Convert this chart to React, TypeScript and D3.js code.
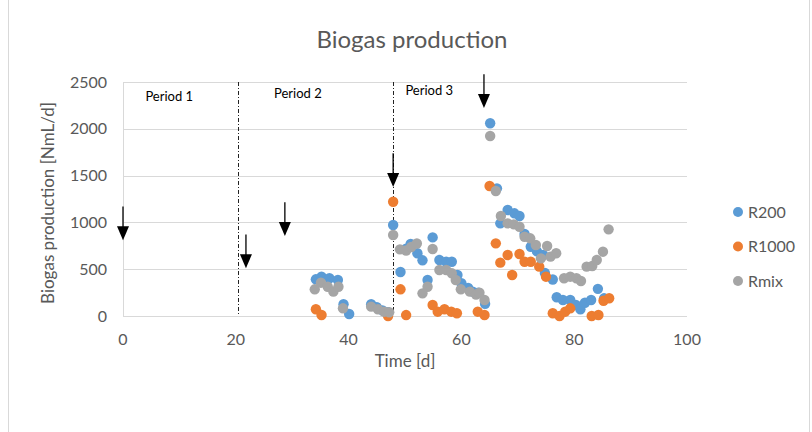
import React from "react";
import * as d3 from "d3";

const xTicks = [0, 20, 40, 60, 80, 100];
const yTicks = [0, 500, 1000, 1500, 2000, 2500];

const r200: [number, number][] = [
  [34.2, 392], [35.2, 420], [36.6, 403], [38.1, 385], [39.1, 125], [40.1, 21],
  [44, 125], [45, 95], [46, 60], [47, 40], [47.9, 972], [49.2, 470], [50.2, 720],
  [51, 770], [52.2, 670], [53.1, 595], [54, 385], [54.9, 840], [56.1, 598],
  [57.3, 580], [58.3, 580], [59.3, 438], [60, 350], [61.2, 300], [62, 260],
  [63, 250], [64.2, 130], [65.1, 2059], [66.3, 1364], [66.9, 990], [68.2, 1132],
  [69.4, 1097], [70.3, 1068], [71.2, 876], [72.3, 740], [73.4, 690], [74.5, 652],
  [74.8, 460], [76.2, 390], [76.9, 200], [78, 171], [79.3, 171], [80.3, 117],
  [81.1, 72], [81.9, 142], [83, 171], [84.2, 290], [85.3, 189],
];

const r1000: [number, number][] = [
  [34.2, 72], [35.2, 11], [47, 0], [47.9, 1221], [49.2, 285], [50.2, 10],
  [54.9, 117], [55.8, 46], [57, 72], [58.2, 46], [59.2, 29], [62.9, 46],
  [64.1, 11], [65, 1389], [66.1, 776], [66.9, 570], [68.2, 652], [69, 438],
  [70.3, 662], [71.2, 580], [72.3, 580], [73.8, 527], [75, 420], [76.2, 29],
  [77.4, 0], [78.4, 46], [79.3, 82], [83.1, 0], [84.3, 11], [85.2, 163], [86.2, 190],
];

const rmix: [number, number][] = [
  [34, 285], [35.1, 356], [36.3, 313], [37.3, 260], [38.2, 313], [39, 82],
  [44, 100], [45.2, 72], [46.3, 46], [47.2, 40], [47.9, 865], [49.1, 712],
  [50.2, 700], [51.1, 737], [52.1, 775], [53.1, 242], [54, 313], [54.9, 716],
  [56.1, 491], [57.3, 491], [58.3, 456], [59, 385], [59.9, 285], [61.5, 260],
  [62.6, 230], [63.2, 249], [64.1, 171], [65.1, 1923], [66.1, 1335], [67, 1068],
  [68.2, 990], [69.3, 979], [70.3, 954], [71.2, 847], [72.2, 830], [73.2, 759],
  [74.1, 616], [75.2, 748], [75.8, 634], [76.8, 670], [78.2, 403], [79.3, 420],
  [80.4, 403], [81.2, 374], [82.2, 527], [83.2, 534], [84, 598], [85.1, 687],
  [86.1, 926],
];

const seriesNames = ["R200", "R1000", "Rmix"];
const seriesColors = ["#5B9BD5", "#ED7D31", "#A5A5A5"];
const seriesData = [r200, r1000, rmix];

// dividers between periods (days)
const periodDividers = [20.4, 47.9];
const periodLabels = ["Period 1", "Period 2", "Period 3"];
const periodLabelDays = [8.2, 31.0, 54.3];
const periodLabelValues = [2340, 2370, 2400];

// arrows: [day, tip value]
const arrows: [number, number][] = [
  [0, 810], [21.8, 510], [28.7, 855], [47.9, 1378], [64, 2222],
];
const arrowLen = 360;

const FONT = "Lato, 'Open Sans', sans-serif";

export default function App() {
  const x = d3.scaleLinear().domain([0, 100]).range([123, 687]);
  const y = d3.scaleLinear().domain([0, 2500]).range([316, 82]);
  const text = "#595959";
  const grid = "#D9D9D9";

  return (
    <svg
      width={812}
      height={432}
      style={{ position: "absolute", left: 0, top: 0, background: "#fff" }}
    >
      <rect x={8.5} y={-5} width={801} height={500} fill="#fff" stroke={grid} />
      <text x={412} y={48} textAnchor="middle" fontFamily={FONT} fontSize={24} fill={text}>
        Biogas production
      </text>
      {yTicks.map((t) => (
        <g key={t}>
          <line x1={x(0)} x2={x(100)} y1={Math.round(y(t)) + 0.5} y2={Math.round(y(t)) + 0.5} stroke={grid} strokeWidth={1} />
          <text x={107} y={y(t) + 5.5} textAnchor="end" fontFamily={FONT} fontSize={16} fill={text}>
            {t}
          </text>
        </g>
      ))}
      <line x1={x(0) + 0.5} x2={x(0) + 0.5} y1={y(2500)} y2={y(0)} stroke={grid} />
      {xTicks.map((t) => (
        <text key={t} x={x(t)} y={345} textAnchor="middle" fontFamily={FONT} fontSize={16} fill={text}>
          {t}
        </text>
      ))}
      <text x={405} y={367} textAnchor="middle" fontFamily={FONT} fontSize={17} fill={text}>
        Time [d]
      </text>
      <text
        transform={`translate(54, ${(y(0) + y(2500)) / 2 + 4}) rotate(-90)`}
        textAnchor="middle"
        fontFamily={FONT}
        fontSize={17}
        fill={text}
      >
        Biogas production [NmL/d]
      </text>
      {periodDividers.map((d) => (
        <line
          key={d}
          x1={Math.round(x(d)) + 0.5}
          x2={Math.round(x(d)) + 0.5}
          y1={y(2500)}
          y2={y(0)}
          stroke="#222"
          strokeWidth={1}
          strokeDasharray="4 2 1 2"
        />
      ))}
      {periodLabels.map((p, i) => (
        <text key={p} x={x(periodLabelDays[i])} y={y(periodLabelValues[i]) + 4} textAnchor="middle" fontFamily={FONT} fontSize={13} fill="#000">
          {p}
        </text>
      ))}
      {seriesData.map((s, si) => (
        <g key={si}>
          {s.map(([d, v], i) => (
            <circle key={i} cx={x(d)} cy={y(v)} r={5.2} fill={seriesColors[si]} />
          ))}
        </g>
      ))}
      {arrows.map(([d, v], i) => {
        const ax = x(d);
        const tip = y(v);
        const top = y(v + arrowLen);
        return (
          <g key={i}>
            <line x1={ax} x2={ax} y1={top} y2={tip - 10} stroke="#000" strokeWidth={1.3} />
            <path d={`M${ax - 6},${tip - 14} L${ax + 6},${tip - 14} L${ax},${tip} Z`} fill="#000" />
          </g>
        );
      })}
      {seriesNames.map((n, i) => (
        <g key={n}>
          <circle cx={738} cy={212 + i * 34.5} r={5} fill={seriesColors[i]} />
          <text x={748} y={212 + i * 34.5 + 5.5} fontFamily={FONT} fontSize={16} fill={text}>
            {n}
          </text>
        </g>
      ))}
    </svg>
  );
}
